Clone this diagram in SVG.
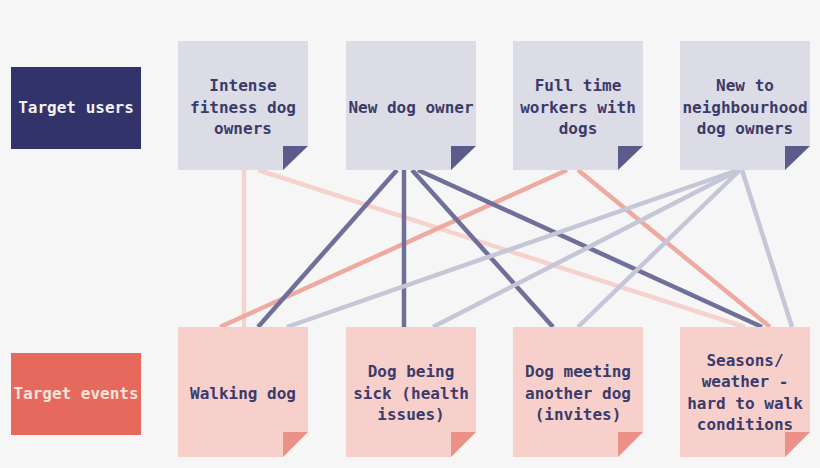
<svg xmlns="http://www.w3.org/2000/svg" width="820" height="468" viewBox="0 0 820 468">
<style>
text{font-family:"DejaVu Sans Mono","Liberation Mono",monospace;font-weight:bold;font-size:16px;text-anchor:middle}
.user{fill:#dcdce6}
.ufold{fill:#5c5c8c}
.event{fill:#f7d0cc}
.efold{fill:#ec9187}
.nt{fill:#3b3b6b}
.c{fill:none;stroke-width:4.5;stroke-linecap:butt}
.dark{stroke:#6f6f9a}
.lav{stroke:#c5c6d8}
.sal{stroke:#eeaaa0}
.pink{stroke:#f6d2cd}
</style>
<rect width="820" height="468" fill="#f6f6f6"/>
<g id="connectors">
<line class="c pink" x1="244" y1="170" x2="244" y2="327"/>
<line class="c pink" x1="258" y1="170" x2="745" y2="327"/>
<line class="c sal" x1="567" y1="170" x2="220" y2="327"/>
<line class="c sal" x1="578" y1="170" x2="770" y2="327"/>
<line class="c dark" x1="397" y1="170" x2="258" y2="327"/>
<line class="c dark" x1="404" y1="170" x2="404" y2="327"/>
<line class="c dark" x1="412" y1="170" x2="553" y2="327"/>
<line class="c dark" x1="418" y1="170" x2="762" y2="327"/>
<line class="c lav" x1="738" y1="170" x2="287" y2="327"/>
<line class="c lav" x1="739" y1="170" x2="433" y2="327"/>
<line class="c lav" x1="740" y1="170" x2="578" y2="327"/>
<line class="c lav" x1="742" y1="170" x2="792" y2="327"/>
</g>
<g id="target-users">
<rect x="11" y="67" width="130" height="82" fill="#33336b"/>
<text x="76" y="113" fill="#f2f2f6">Target users</text>
</g>
<g id="target-events">
<rect x="11" y="353" width="130" height="82" fill="#e5695d"/>
<text x="76" y="399" fill="#fbe3d9">Target events</text>
</g>
<g id="u1">
<polygon class="user" points="178,41 308,41 308,146 283,170 178,170"/>
<polygon class="ufold" points="283,146 308,146 283,170"/>
<text class="nt" x="243" y="91">Intense</text>
<text class="nt" x="243" y="113">fitness dog</text>
<text class="nt" x="243" y="134">owners</text>
</g>
<g id="u2">
<polygon class="user" points="346,41 476,41 476,146 451,170 346,170"/>
<polygon class="ufold" points="451,146 476,146 451,170"/>
<text class="nt" x="411" y="113">New dog owner</text>
</g>
<g id="u3">
<polygon class="user" points="513,41 643,41 643,146 618,170 513,170"/>
<polygon class="ufold" points="618,146 643,146 618,170"/>
<text class="nt" x="578" y="91">Full time</text>
<text class="nt" x="578" y="113">workers with</text>
<text class="nt" x="578" y="134">dogs</text>
</g>
<g id="u4">
<polygon class="user" points="680,41 810,41 810,146 785,170 680,170"/>
<polygon class="ufold" points="785,146 810,146 785,170"/>
<text class="nt" x="745" y="91">New to</text>
<text class="nt" x="745" y="113">neighbourhood</text>
<text class="nt" x="745" y="134">dog owners</text>
</g>
<g id="e1">
<polygon class="event" points="178,327 308,327 308,432 283,457 178,457"/>
<polygon class="efold" points="283,432 308,432 283,457"/>
<text class="nt" x="243" y="399">Walking dog</text>
</g>
<g id="e2">
<polygon class="event" points="346,327 476,327 476,432 451,457 346,457"/>
<polygon class="efold" points="451,432 476,432 451,457"/>
<text class="nt" x="411" y="377">Dog being</text>
<text class="nt" x="411" y="399">sick (health</text>
<text class="nt" x="411" y="420">issues)</text>
</g>
<g id="e3">
<polygon class="event" points="513,327 643,327 643,432 618,457 513,457"/>
<polygon class="efold" points="618,432 643,432 618,457"/>
<text class="nt" x="578" y="377">Dog meeting</text>
<text class="nt" x="578" y="399">another dog</text>
<text class="nt" x="578" y="420">(invites)</text>
</g>
<g id="e4">
<polygon class="event" points="680,327 810,327 810,432 785,457 680,457"/>
<polygon class="efold" points="785,432 810,432 785,457"/>
<text class="nt" x="745" y="366">Seasons/</text>
<text class="nt" x="745" y="387">weather -</text>
<text class="nt" x="745" y="409">hard to walk</text>
<text class="nt" x="745" y="430">conditions</text>
</g>
</svg>
